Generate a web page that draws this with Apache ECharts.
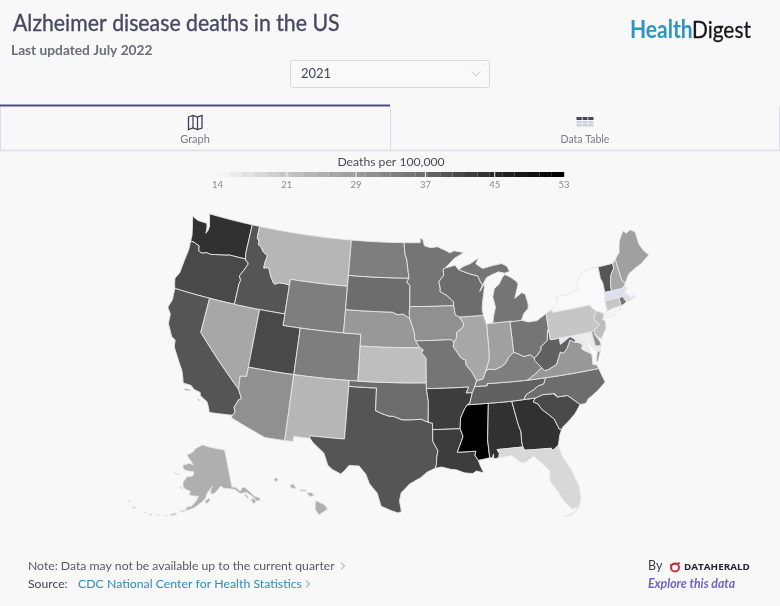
<!DOCTYPE html>
<html>
<head>
    <meta charset="utf-8">
    <title>Alzheimer disease deaths in the US</title>
    <script src="https://cdn.jsdelivr.net/npm/echarts@6/dist/echarts.min.js"></script>
    <style>
        html, body { margin: 0; padding: 0; background: #f8f8f8; }
        #main { width: 780px; height: 606px; }
    </style>
</head>
<body>
<div id="main"></div>
<script type="text/javascript">
    // values, null = no shade to read (NY, MA)
    var stateNames = ['Washington','Oregon','California','Nevada','Idaho','Montana','Wyoming','Utah','Colorado','Arizona','New Mexico','Texas','Oklahoma','Kansas','Nebraska','South Dakota','North Dakota','Minnesota','Iowa','Missouri','Arkansas','Louisiana','Mississippi','Alabama','Georgia','South Carolina','Florida','North Carolina','Tennessee','Kentucky','Virginia','West Virginia','Ohio','Indiana','Illinois','Wisconsin','Michigan','Pennsylvania','New York','New Jersey','Maryland','Delaware','Vermont','New Hampshire','Maine','Massachusetts','Connecticut','Rhode Island','Alaska','Hawaii'];
    var deathRates = [44,40.5,39.4,27,40.2,25,34,41.5,33.8,31,24.6,40,36.8,23,30.3,36.5,34.5,35.5,31,35,42.5,42.5,53,44,43.3,41.2,18.3,37.4,38.6,33.8,30,38.3,35.5,29,27.7,36.3,35.9,22.3,null,22.7,16,31,40,26.7,29,null,21,35,26,26];
    var legendTicks = [14, 21, 29, 37, 45, 53];
    var legendGrays = ['#f4f4f4', '#c2c2c2', '#9a9a9a', '#6b6b6b', '#2a2a2a', '#000000'];
    var yearSelected = '2021';

    // state outlines in lon/lat, each state a list of rings
    var stateShapes = {
        'Washington': [[[-124.73,48.38],[-123.9,48.16],[-123.1,48.15],[-122.75,48.15],[-122.6,47.9],[-122.5,47.3],[-122.33,47.6],[-122.3,47.95],[-122.5,48.45],[-122.75,49],[-117.03,49],[-117.04,46.42],[-116.92,45.99],[-118.98,46],[-119.3,45.93],[-119.9,45.84],[-120.65,45.74],[-121.2,45.65],[-121.75,45.7],[-122.3,45.55],[-122.76,45.65],[-122.9,46.1],[-123.2,46.15],[-123.55,46.26],[-124.05,46.27],[-124.1,46.8],[-124.4,47.6]]],
        'Oregon': [[[-124.05,46.27],[-123.55,46.26],[-123.2,46.15],[-122.9,46.1],[-122.76,45.65],[-122.3,45.55],[-121.75,45.7],[-121.2,45.65],[-120.65,45.74],[-119.9,45.84],[-119.3,45.93],[-118.98,46],[-116.92,45.99],[-116.78,45.83],[-116.55,45.75],[-116.46,45.6],[-116.68,45.24],[-116.85,44.96],[-117.2,44.45],[-117.03,44.25],[-116.93,44.1],[-117.03,43.83],[-117.03,42],[-124.21,42],[-124.4,42.4],[-124.55,42.84],[-124.2,43.4],[-124.1,44.5],[-123.97,45.5]]],
        'Idaho': [[[-117.03,49],[-116.05,49],[-116.05,48],[-115.72,47.7],[-115.72,47.43],[-115.3,47.25],[-114.93,46.9],[-114.33,46.65],[-114.47,46.1],[-114.5,45.56],[-114,45.65],[-113.8,45.5],[-113.45,44.95],[-113,44.45],[-112.8,44.37],[-112.3,44.55],[-111.5,44.55],[-111.05,44.48],[-111.05,42],[-117.03,42],[-117.03,43.83],[-116.93,44.1],[-117.03,44.25],[-117.2,44.45],[-116.85,44.96],[-116.68,45.24],[-116.46,45.6],[-116.55,45.75],[-116.78,45.83],[-116.92,45.99],[-117.04,46.42]]],
        'Montana': [[[-116.05,49],[-104.05,49],[-104.05,45],[-111.05,45],[-111.05,44.48],[-111.5,44.55],[-112.3,44.55],[-112.8,44.37],[-113,44.45],[-113.45,44.95],[-113.8,45.5],[-114,45.65],[-114.5,45.56],[-114.47,46.1],[-114.33,46.65],[-114.93,46.9],[-115.3,47.25],[-115.72,47.43],[-115.72,47.7],[-116.05,48]]],
        'Wyoming': [[[-111.05,45],[-104.05,45],[-104.05,41],[-111.05,41]]],
        'Utah': [[[-114.04,42],[-111.05,42],[-111.05,41],[-109.05,41],[-109.05,37],[-114.05,37]]],
        'Colorado': [[[-109.05,41],[-102.05,41],[-102.05,37],[-109.05,37]]],
        'Nevada': [[[-120,42],[-114.04,42],[-114.05,36.2],[-114.74,36.1],[-114.63,35],[-120,39]]],
        'California': [[[-124.21,42],[-120,42],[-120,39],[-114.63,35],[-114.15,34.27],[-114.43,34.08],[-114.72,33.4],[-114.52,33.03],[-114.72,32.72],[-117.12,32.53],[-117.25,32.85],[-117.6,33.4],[-118.4,33.75],[-118.5,34.03],[-119.2,34.15],[-119.6,34.42],[-120.47,34.45],[-120.65,34.9],[-120.9,35.4],[-121.9,36.6],[-122.4,37.2],[-122.52,37.8],[-123,38],[-123.75,39],[-123.85,39.8],[-124.35,40.3],[-124.1,41]],
            [[-120.2,34.02],[-119.5,34.05],[-119.55,33.95],[-120.1,33.92]],[[-118.6,33.48],[-118.35,33.4],[-118.3,33.3],[-118.55,33.38]]],
        'Arizona': [[[-114.05,37],[-109.05,37],[-109.05,31.33],[-111.07,31.33],[-114.81,32.5],[-114.72,32.72],[-114.52,33.03],[-114.72,33.4],[-114.43,34.08],[-114.15,34.27],[-114.63,35],[-114.74,36.1],[-114.05,36.2]]],
        'New Mexico': [[[-109.05,37],[-103,37],[-103.04,32],[-106.62,32],[-106.53,31.78],[-108.21,31.78],[-108.21,31.33],[-109.05,31.33]]],
        'Texas': [[[-106.62,32],[-103.04,32],[-103,36.5],[-100,36.5],[-100,34.56],[-99.2,34.3],[-98.6,34.15],[-98.1,34.13],[-97.2,33.85],[-96.6,33.85],[-95.9,33.87],[-95.2,33.9],[-94.48,33.64],[-94.04,33.55],[-94.04,33],[-94.04,31.99],[-93.55,31.2],[-93.7,30.5],[-93.72,30.05],[-93.85,29.7],[-94.7,29.35],[-95.3,28.9],[-96.4,28.35],[-97.2,27.6],[-97.35,26.9],[-97.15,25.96],[-97.5,25.85],[-98.2,26.06],[-99.1,26.4],[-99.5,27.5],[-100.3,28.3],[-100.7,29.1],[-101.4,29.77],[-102.4,29.77],[-102.8,29.3],[-103.15,28.98],[-104,29.3],[-104.5,29.65],[-105,30.65],[-106.2,31.45],[-106.53,31.78]]],
        'Oklahoma': [[[-103,37],[-94.62,37],[-94.62,36.5],[-94.43,35.4],[-94.48,33.64],[-95.2,33.9],[-95.9,33.87],[-96.6,33.85],[-97.2,33.85],[-98.1,34.13],[-98.6,34.15],[-99.2,34.3],[-100,34.56],[-100,36.5],[-103,36.5]]],
        'Kansas': [[[-102.05,40],[-95.3,40],[-94.9,39.8],[-95.1,39.55],[-94.61,39.11],[-94.62,37],[-102.05,37]]],
        'Nebraska': [[[-104.05,43],[-98.5,43],[-97.9,42.8],[-97.2,42.85],[-96.7,42.6],[-96.45,42.49],[-96.1,41.7],[-95.9,41.2],[-95.85,40.7],[-95.3,40],[-102.05,40],[-102.05,41],[-104.05,41]]],
        'South Dakota': [[[-104.05,45.94],[-96.56,45.94],[-96.85,45.6],[-96.45,45.3],[-96.45,43.5],[-96.52,43],[-96.45,42.49],[-96.7,42.6],[-97.2,42.85],[-97.9,42.8],[-98.5,43],[-104.05,43]]],
        'North Dakota': [[[-104.05,49],[-97.23,49],[-97.1,48],[-96.85,47.5],[-96.75,46.9],[-96.56,45.94],[-104.05,45.94]]],
        'Minnesota': [[[-97.23,49],[-95.15,49],[-95.15,49.38],[-94.82,49.3],[-94.6,48.72],[-93.8,48.55],[-92.95,48.62],[-92,48.3],[-91.4,48.05],[-90.8,48.2],[-89.6,48],[-90.85,47.55],[-92.05,46.75],[-92.3,46.66],[-92.29,46.1],[-92.9,45.6],[-92.75,45],[-92.8,44.75],[-92,44.4],[-91.25,43.85],[-91.22,43.5],[-96.45,43.5],[-96.45,45.3],[-96.85,45.6],[-96.56,45.94],[-96.75,46.9],[-96.85,47.5],[-97.1,48]]],
        'Iowa': [[[-96.45,43.5],[-91.22,43.5],[-91.1,42.7],[-90.64,42.5],[-90.15,41.9],[-90.35,41.55],[-91.05,41.2],[-91.1,40.7],[-91.42,40.38],[-91.73,40.61],[-95.77,40.58],[-95.85,40.7],[-95.9,41.2],[-96.1,41.7],[-96.45,42.49],[-96.52,43]]],
        'Missouri': [[[-95.77,40.58],[-91.73,40.61],[-91.42,40.38],[-91.5,40],[-90.7,39],[-90.2,38.8],[-90.2,38.4],[-89.55,37.7],[-89.15,37],[-89.4,36.5],[-89.7,36],[-90.37,36],[-90.07,36.5],[-94.62,36.5],[-94.62,37],[-94.61,39.11],[-95.1,39.55],[-94.9,39.8],[-95.3,40]]],
        'Arkansas': [[[-94.62,36.5],[-90.07,36.5],[-90.37,36],[-89.7,36],[-90.05,35.1],[-90.3,35],[-90.6,34.7],[-91.1,33.9],[-91.2,33],[-94.04,33],[-94.04,33.55],[-94.48,33.64],[-94.43,35.4]]],
        'Louisiana': [[[-94.04,33],[-91.2,33],[-91,32.5],[-90.95,32.3],[-91.6,31],[-89.73,31],[-89.85,30.65],[-89.55,30.2],[-89.4,29.75],[-89.1,29.1],[-89.8,29.3],[-90.2,29.1],[-91,29.2],[-91.8,29.5],[-92.3,29.55],[-93.2,29.78],[-93.85,29.7],[-93.72,30.05],[-93.7,30.5],[-93.55,31.2],[-94.04,31.99]]],
        'Mississippi': [[[-90.3,35],[-88.2,35],[-88.1,34.9],[-88.47,31.9],[-88.4,30.35],[-89.55,30.2],[-89.85,30.65],[-89.73,31],[-91.6,31],[-90.95,32.3],[-91,32.5],[-91.2,33],[-91.1,33.9],[-90.6,34.7]]],
        'Tennessee': [[[-90.3,35],[-90.05,35.1],[-89.7,36],[-89.4,36.5],[-88.05,36.5],[-88.05,36.68],[-83.68,36.6],[-81.68,36.59],[-82,36.1],[-82.6,36],[-83.1,35.75],[-84,35.4],[-84.32,35],[-85.6,34.98],[-88.2,35]]],
        'Alabama': [[[-88.2,35],[-85.6,34.98],[-85.18,32.87],[-85,32.3],[-85.05,31.55],[-85,31],[-87.6,31],[-87.4,30.65],[-87.5,30.28],[-88,30.23],[-88,30.65],[-88.13,30.32],[-88.4,30.35],[-88.47,31.9],[-88.1,34.9]]],
        'Georgia': [[[-85.6,34.98],[-84.32,35],[-83.1,35],[-83.35,34.7],[-82.9,34.48],[-82.55,33.95],[-82,33.5],[-81.45,33],[-81.1,32.1],[-80.87,32.03],[-81.15,31.55],[-81.45,30.72],[-82.05,30.36],[-82.2,30.57],[-84.86,30.7],[-85,31],[-85.05,31.55],[-85,32.3],[-85.18,32.87]]],
        'Florida': [[[-87.6,31],[-85,31],[-84.86,30.7],[-82.2,30.57],[-82.05,30.36],[-81.45,30.72],[-81.25,29.8],[-80.55,28.45],[-80.05,26.9],[-80.13,25.8],[-80.4,25.2],[-81.1,25.13],[-81.75,25.95],[-82.2,26.9],[-82.75,27.8],[-82.65,28.7],[-83.4,29.5],[-84,30.1],[-85,29.65],[-85.4,29.7],[-86.2,30.4],[-87.5,30.28],[-87.4,30.65]],
            [[-81.85,24.55],[-81.2,24.6],[-80.4,25.15],[-80.5,25.1],[-81.2,24.7]]],
        'South Carolina': [[[-83.35,34.7],[-83.1,35],[-82.3,35.2],[-81.05,35.15],[-81.04,35.05],[-80.93,35.1],[-80.78,34.82],[-79.67,34.8],[-78.55,33.86],[-79.2,33.2],[-79.9,32.7],[-80.65,32.25],[-80.87,32.03],[-81.1,32.1],[-81.45,33],[-82,33.5],[-82.55,33.95],[-82.9,34.48]]],
        'North Carolina': [[[-84.32,35],[-84,35.4],[-83.1,35.75],[-82.6,36],[-82,36.1],[-81.68,36.59],[-75.87,36.55],[-75.5,35.3],[-76.5,34.7],[-77.6,34.2],[-77.95,33.85],[-78.55,33.86],[-79.67,34.8],[-80.78,34.82],[-80.93,35.1],[-81.04,35.05],[-81.05,35.15],[-82.3,35.2],[-83.1,35]]],
        'Virginia': [[[-83.68,36.6],[-81.68,36.59],[-75.87,36.55],[-76,36.9],[-76.4,37],[-76.3,37.55],[-76.3,37.9],[-77,38.3],[-77.25,38.5],[-77.05,38.8],[-77.5,39.1],[-77.83,39.13],[-78.35,39.4],[-78.85,38.75],[-79.3,38.4],[-79.65,38.55],[-80.3,37.55],[-81.25,37.25],[-81.68,37.2],[-81.96,37.5],[-82.7,37.05]],
            [[-75.98,37.12],[-75.65,37.95],[-75.25,38.03],[-75.75,37.2]]],
        'West Virginia': [[[-82.6,38.4],[-82.2,38.6],[-81.75,39],[-81.7,39.25],[-80.9,39.7],[-80.65,40.6],[-80.52,40.64],[-80.52,39.72],[-79.48,39.72],[-79.48,39.2],[-78.4,39.65],[-78.2,39.68],[-77.72,39.32],[-77.83,39.13],[-78.35,39.4],[-78.85,38.75],[-79.3,38.4],[-79.65,38.55],[-80.3,37.55],[-81.25,37.25],[-81.68,37.2],[-81.96,37.5],[-82.6,38.17]]],
        'Kentucky': [[[-89.15,37],[-89.4,36.5],[-88.05,36.5],[-88.05,36.68],[-83.68,36.6],[-82.7,37.05],[-81.96,37.5],[-82.6,38.17],[-82.6,38.4],[-83,38.72],[-83.7,38.63],[-84.25,38.9],[-84.8,39.1],[-85.4,38.73],[-85.8,38.28],[-86.3,38],[-87.1,37.8],[-87.6,37.9],[-88.05,37.8],[-88.45,37.1]]],
        'Ohio': [[[-84.8,41.7],[-83.45,41.73],[-82.7,41.5],[-81.7,41.5],[-80.52,41.98],[-80.52,40.64],[-80.65,40.6],[-80.9,39.7],[-81.7,39.25],[-81.75,39],[-82.2,38.6],[-82.6,38.4],[-83,38.72],[-83.7,38.63],[-84.25,38.9],[-84.8,39.1]]],
        'Indiana': [[[-87.53,41.72],[-87.2,41.75],[-86.8,41.76],[-84.8,41.76],[-84.8,39.1],[-85.4,38.73],[-85.8,38.28],[-86.3,38],[-87.1,37.8],[-87.6,37.9],[-88.05,37.8],[-87.6,38.7],[-87.53,39.35]]],
        'Illinois': [[[-90.64,42.5],[-87.8,42.5],[-87.6,41.9],[-87.53,41.72],[-87.53,39.35],[-87.6,38.7],[-88.05,37.8],[-88.45,37.1],[-89.15,37],[-89.55,37.7],[-90.2,38.4],[-90.2,38.8],[-90.7,39],[-91.5,40],[-91.42,40.38],[-91.1,40.7],[-91.05,41.2],[-90.35,41.55],[-90.15,41.9]]],
        'Wisconsin': [[[-92.3,46.66],[-92.05,46.75],[-90.8,46.95],[-90.4,46.55],[-89.1,46.14],[-88.1,45.9],[-87.8,45.35],[-87.6,45.1],[-88,44.55],[-87.3,45.25],[-87.5,44.5],[-87.75,43.7],[-87.9,43],[-87.8,42.5],[-90.64,42.5],[-91.1,42.7],[-91.22,43.5],[-91.25,43.85],[-92,44.4],[-92.8,44.75],[-92.75,45],[-92.9,45.6],[-92.29,46.1]]],
        'Michigan': [[[-86.8,41.76],[-84.8,41.76],[-84.8,41.7],[-83.45,41.73],[-83.1,42.25],[-82.5,42.65],[-82.42,43],[-82.6,43.9],[-83,44.05],[-83.9,43.65],[-83.3,44.8],[-83.4,45.05],[-84.1,45.5],[-84.75,45.78],[-85.1,45.55],[-85.6,45],[-86.2,44.7],[-86.5,44],[-86.3,43.1],[-86.6,42.4]],
            [[-90.4,46.55],[-89.1,46.14],[-88.1,45.9],[-87.8,45.35],[-87.6,45.1],[-87,45.7],[-86.3,45.9],[-85.5,46.08],[-84.75,45.9],[-84.1,46],[-84.4,46.5],[-85,46.75],[-86.1,46.67],[-87.4,46.5],[-88.2,46.95],[-87.8,47.45],[-88.9,47],[-89.8,46.8]]],
        'Pennsylvania': [[[-80.52,41.98],[-79.76,42.27],[-79.76,42],[-75.35,42],[-75.05,41.6],[-74.7,41.36],[-75.13,40.97],[-75.2,40.7],[-74.75,40.2],[-75.4,39.8],[-75.79,39.72],[-80.52,39.72]]],
        'New York': [[[-79.76,42.27],[-79.05,42.7],[-78.9,42.95],[-79.05,43.27],[-77.5,43.25],[-76.2,43.55],[-76.3,44.1],[-75.3,44.85],[-74.7,45],[-73.35,45],[-73.4,44],[-73.25,43.6],[-73.28,42.75],[-73.5,42.05],[-73.49,41.2],[-73.73,41.1],[-73.95,41],[-74.7,41.36],[-75.05,41.6],[-75.35,42],[-79.76,42]],
            [[-74,40.6],[-73.75,40.85],[-72.6,40.98],[-71.9,41.07],[-72.5,40.8],[-73.7,40.58]]],
        'Vermont': [[[-73.35,45],[-71.5,45],[-71.55,44.55],[-72.05,44.1],[-72.3,43.6],[-72.45,43],[-72.46,42.73],[-73.28,42.75],[-73.25,43.6],[-73.4,44]]],
        'New Hampshire': [[[-71.5,45],[-71.08,45.3],[-70.98,43.4],[-70.7,43.07],[-70.82,42.87],[-71.3,42.7],[-72.46,42.73],[-72.45,43],[-72.3,43.6],[-72.05,44.1],[-71.55,44.55]]],
        'Maine': [[[-71.08,45.3],[-70.4,45.75],[-70.25,46.2],[-70,46.7],[-69.23,47.46],[-68.9,47.18],[-68.3,47.36],[-67.79,47.07],[-67.78,45.95],[-67.45,45.3],[-67,44.85],[-68.2,44.3],[-69,44.1],[-70,43.75],[-70.7,43.07],[-70.98,43.4]]],
        'Massachusetts': [[[-73.5,42.05],[-73.28,42.75],[-72.46,42.73],[-71.3,42.7],[-70.82,42.87],[-70.6,42.65],[-71.05,42.3],[-70.65,41.95],[-70.5,41.78],[-70.05,41.78],[-70.22,42.07],[-69.95,41.7],[-70.65,41.55],[-71.12,41.5],[-71.38,42.02],[-71.8,42.02]]],
        'Connecticut': [[[-73.5,42.05],[-71.8,42.02],[-71.85,41.32],[-72.9,41.25],[-73.73,41.1],[-73.49,41.2]]],
        'Rhode Island': [[[-71.8,42.02],[-71.38,42.02],[-71.12,41.5],[-71.5,41.37],[-71.85,41.32]]],
        'New Jersey': [[[-74.7,41.36],[-73.95,41],[-74.25,40.5],[-73.98,40.4],[-74.1,39.75],[-74.9,38.95],[-75.55,39.5],[-75.4,39.8],[-74.75,40.2],[-75.2,40.7],[-75.13,40.97]]],
        'Delaware': [[[-75.79,39.72],[-75.4,39.8],[-75.55,39.5],[-75.1,38.8],[-75.05,38.45],[-75.7,38.46]]],
        'Maryland': [[[-79.48,39.72],[-75.79,39.72],[-75.7,38.46],[-75.05,38.45],[-75.25,38.03],[-75.65,37.95],[-76,38.3],[-76.3,38.9],[-76.1,39.4],[-76.5,39.2],[-76.5,38.5],[-76.35,38.05],[-77,38.3],[-77.25,38.5],[-77.05,38.8],[-77.5,39.1],[-77.83,39.13],[-77.72,39.32],[-78.2,39.68],[-78.4,39.65],[-79.48,39.2]]],
        'Alaska': [[[-141,69.65],[-141,60.3],[-139.2,60.1],[-137.5,58.9],[-136.5,59.45],[-135.3,59.75],[-133.5,58.4],[-131.8,56.6],[-130,56],[-130.1,55.2],[-131.5,55.4],[-133,57],[-135,58.3],[-136.5,58.2],[-137.9,58.4],[-139.8,59.55],[-142.5,60.05],[-145,60.3],[-146.5,60.9],[-148.5,60],[-150,59.3],[-151.8,59.2],[-151.5,60.7],[-150.2,61.2],[-152.2,60.2],[-153.5,59.5],[-154.2,58.2],[-156.5,57],[-158.5,56],[-161,55.2],[-163.2,54.8],[-162,55.9],[-160.5,56],[-158.5,57.5],[-157.5,58.7],[-159,58.6],[-162,58.7],[-161.8,59.7],[-164.2,60],[-165.5,60.5],[-166,61.6],[-164.8,62.7],[-164.5,63.1],[-161,63.5],[-161,64.5],[-164,64.55],[-166.5,64.6],[-168.1,65.6],[-164,66.5],[-161.8,66.1],[-163.5,67.1],[-166.8,68.35],[-163,69.3],[-161.5,70.3],[-156.6,71.35],[-152,70.85],[-148,70.4],[-144,70]],
            [[-154.5,57.5],[-152.3,58.3],[-152.2,57.6],[-153.8,56.8]],
            [[-134.6,57],[-135.6,58.1],[-135.9,57.6],[-135,56.6]],[[-133.5,55.1],[-133.8,56.3],[-132.4,56.2],[-131.9,55.2]],
            [[-171.7,63.45],[-169,63.4],[-168.9,63.15],[-171.5,63.3]],[[-167.2,60.3],[-166,60.4],[-165.7,60],[-167,59.9]],
            [[-164.9,54.6],[-163.3,54.85],[-163.4,54.55],[-164.8,54.4]],[[-168.9,53.2],[-166.2,53.95],[-166.4,53.45],[-168.5,52.95]],
            [[-171.2,52.55],[-169.7,52.95],[-169.9,52.75]],[[-174.6,52.3],[-172.8,52.45],[-172.9,52.2]],[[-177.2,51.95],[-175.8,52.1],[-176,51.75]],
            [[-179.5,51.95],[-178,51.95],[-178.2,51.65]],[[-184.5,52.1],[-182.7,52.1],[-183.3,51.7]],[[-187.2,52.9],[-185.8,53],[-186,52.7]]],
        'Hawaii': [[[-155.9,20.25],[-155.1,19.9],[-154.8,19.5],[-155.6,19],[-155.95,19.5]],
            [[-156.7,20.9],[-156.25,20.95],[-156,20.7],[-156.4,20.58]],[[-157.3,21.2],[-156.75,21.17],[-156.75,21.05],[-157.3,21.08]],
            [[-158.25,21.55],[-157.95,21.7],[-157.65,21.3],[-158.1,21.3]],[[-159.75,22.05],[-159.5,22.23],[-159.3,22],[-159.55,21.88]]]
    };

    // add points on long edges so straight parallels bend under the conic projection
    function densify(ring) {
        var out = [];
        for (var i = 0; i < ring.length; i++) {
            var a = ring[i], b = ring[(i + 1) % ring.length];
            var steps = Math.ceil(Math.max(Math.abs(b[0] - a[0]), Math.abs(b[1] - a[1])) / 0.5) || 1;
            for (var k = 0; k < steps; k++) {
                out.push([a[0] + (b[0] - a[0]) * k / steps, a[1] + (b[1] - a[1]) * k / steps]);
            }
        }
        out.push(out[0]);
        return out;
    }

    var features = stateNames.map(function (name) {
        return {
            type: 'Feature',
            properties: { name: name },
            geometry: { type: 'MultiPolygon', coordinates: stateShapes[name].map(function (ring) { return [densify(ring)]; }) }
        };
    });
    echarts.registerMap('USA', { type: 'FeatureCollection', features: features });

    // Albers USA with its two insets, fitted to the page
    var RAD = Math.PI / 180;
    function conic(lat1, lat2, lat0, lon0) {
        var n = (Math.sin(lat1 * RAD) + Math.sin(lat2 * RAD)) / 2;
        var c = Math.pow(Math.cos(lat1 * RAD), 2) + 2 * n * Math.sin(lat1 * RAD);
        var rho0 = Math.sqrt(c - 2 * n * Math.sin(lat0 * RAD)) / n;
        return function (p) {
            var rho = Math.sqrt(c - 2 * n * Math.sin(p[1] * RAD)) / n;
            var theta = n * (p[0] - lon0) * RAD;
            return [rho * Math.sin(theta), rho0 - rho * Math.cos(theta)];
        };
    }
    var SCALE = 667;
    var lower48 = conic(29.5, 45.5, 37.5, -96);
    var alaska = conic(55, 65, 58.5, -154);
    var hawaii = conic(8, 18, 19.9, -157);
    function albersUsa(p) {
        var q, k, tx, ty;
        if (p[0] < -125 && p[1] > 50) { q = alaska(p); k = SCALE * 0.35; tx = 206; ty = 497; }
        else if (p[0] < -150 && p[1] < 30) { q = hawaii(p); k = SCALE; tx = 303.5; ty = 504.6; }
        else { q = lower48(p); k = SCALE; tx = 413.6; ty = 377; }
        return [tx + k * q[0], ty - k * q[1]];
    }

    // projected extent, the map box is set to it so one unit is one pixel
    var box = [Infinity, Infinity, -Infinity, -Infinity];
    features.forEach(function (f) {
        f.geometry.coordinates.forEach(function (poly) {
            poly[0].forEach(function (p) {
                var q = albersUsa(p);
                box = [Math.min(box[0], q[0]), Math.min(box[1], q[1]), Math.max(box[2], q[0]), Math.max(box[3], q[1])];
            });
        });
    });

    var seriesData = stateNames.map(function (name, i) {
        var item = { name: name, value: deathRates[i] };
        if (name === 'Massachusetts') item.itemStyle = { areaColor: '#dfdfee' };
        return item;
    });

    var graphics = [];
    // scaleX narrows the text, the page font is a bit more condensed than Lato
    function addText(x, y, text, size, color, extra, scaleX) {
        var style = { x: 0, y: 0, text: text, fontSize: size, fill: color, fontFamily: 'Lato', verticalAlign: 'middle' };
        for (var key in extra) style[key] = extra[key];
        graphics.push({ type: 'text', silent: true, x: x, y: y, scaleX: scaleX || 1, style: style });
    }
    function addLine(x1, y1, x2, y2, color, width) {
        graphics.push({ type: 'line', silent: true, shape: { x1: x1, y1: y1, x2: x2, y2: y2 }, style: { stroke: color, lineWidth: width, fill: null } });
    }
    function addChevron(x, y, color) {
        graphics.push({ type: 'polyline', silent: true, shape: { points: [[x, y - 3.5], [x + 3.5, y], [x, y + 3.5]] }, style: { stroke: color, lineWidth: 0.9, fill: null } });
    }

    // header
    addText(13, 24, 'Alzheimer disease deaths in the US', 23, '#464962', { stroke: '#464962', lineWidth: 0.35 }, 0.925);
    addText(11, 50, 'Last updated July 2022', 14, '#6c6c78', { fontWeight: 'bold' }, 0.98);
    addText(630, 30, 'Health', 24, '#2d95c5', { fontWeight: 'bold' }, 0.875);
    addText(692, 30, 'Digest', 24, '#15151a', { stroke: '#15151a', lineWidth: 0.3 }, 0.87);

    // year selector
    graphics.push({ type: 'rect', silent: true, shape: { x: 290.5, y: 60.5, width: 199, height: 27, r: 2 }, style: { fill: '#f9f9f9', stroke: '#dadadd', lineWidth: 1 } });
    addText(301, 74, yearSelected, 13, '#45465c');
    graphics.push({ type: 'polyline', silent: true, shape: { points: [[472, 71.5], [476, 76], [480, 71.5]] }, style: { stroke: '#b9b9c0', lineWidth: 0.9, fill: null } });

    // tabs
    addLine(0, 150.5, 780, 150.5, '#dddde9', 1.4);
    addLine(390.5, 106, 390.5, 150, '#dddde9', 1);
    addLine(0.5, 106, 0.5, 150, '#dddde9', 1);
    addLine(779.5, 106, 779.5, 150, '#dddde9', 1);
    addLine(0, 105.5, 390, 105.5, '#4a4a8c', 2);
    graphics.push({ type: 'polygon', silent: true, shape: { points: [[188.5, 117], [193, 115.5], [197.5, 117], [202, 115.5], [202, 128], [197.5, 129.5], [193, 128], [188.5, 129.5]] }, style: { fill: null, stroke: '#3b3b58', lineWidth: 1.3 } });
    addLine(193, 115.5, 193, 128, '#3b3b58', 1.2);
    addLine(197.5, 117, 197.5, 129.5, '#3b3b58', 1.2);
    addText(195, 139.5, 'Graph', 11, '#7b7b84', { align: 'center' });
    graphics.push({ type: 'rect', silent: true, shape: { x: 576.5, y: 117, width: 17, height: 3 }, style: { fill: '#45456a' } });
    graphics.push({ type: 'rect', silent: true, shape: { x: 576.5, y: 121, width: 17, height: 5.5 }, style: { fill: '#d0d0dc' } });
    addLine(582.2, 117, 582.2, 126.5, '#f8f8f8', 0.8);
    addLine(587.8, 117, 587.8, 126.5, '#f8f8f8', 0.8);
    addLine(576.5, 123.7, 593.5, 123.7, '#f8f8f8', 0.6);
    addText(585, 139.5, 'Data Table', 10.5, '#7b7b84', { align: 'center' });

    // legend caption and ticks
    addText(391, 162.5, 'Deaths per 100,000', 12.2, '#4b4b55', { align: 'center' });
    legendTicks.forEach(function (tick, i) {
        var x = 217.5 + i * 69.3;
        addText(x, 184.5, String(tick), 9.5, '#8a8a90', { align: 'center' });
    });

    // footer
    addText(28, 566, 'Note: Data may not be available up to the current quarter', 12.2, '#5a5a64');
    addChevron(341, 566, '#8a8a90');
    addText(28, 584, 'Source:', 12.2, '#45454f');
    addText(78, 584, 'CDC National Center for Health Statistics', 12.3, '#2e8ac4');
    addChevron(306, 584, '#2e8ac4');
    addText(648, 566, 'By', 12.5, '#3b3b45');
    graphics.push({ type: 'circle', silent: true, shape: { cx: 675, cy: 567.5, r: 4 }, style: { fill: null, stroke: '#c8323c', lineWidth: 2 } });
    addLine(670, 565, 680, 563, '#c8323c', 1.6);
    addText(684, 567.5, 'DATAHERALD', 8.5, '#26262e', { fontWeight: 'bold', fontFamily: 'Open Sans' }, 1.16);
    addText(648, 584, 'Explore this data', 12.3, '#6e64c8', { fontStyle: 'italic', fontWeight: 'bold' });

    var myChart = echarts.init(document.getElementById('main'));

    var option = {
        backgroundColor: '#f8f8f8',
        animation: false,
        visualMap: {
            type: 'piecewise',
            min: legendTicks[0],
            max: legendTicks[legendTicks.length - 1],
            splitNumber: 28,
            orient: 'horizontal',
            left: 217,
            top: 172,
            padding: 0,
            itemWidth: 12.4,
            itemHeight: 5,
            itemGap: 0,
            itemSymbol: 'rect',
            showLabel: false,
            selectedMode: false,
            hoverLink: false,
            seriesIndex: 0,
            inRange: { color: legendGrays }
        },
        series: [{
            type: 'map',
            map: 'USA',
            projection: {
                project: albersUsa,
                unproject: function (p) { return p; }
            },
            left: box[0],
            top: box[1],
            width: box[2] - box[0],
            height: box[3] - box[1],
            roam: false,
            silent: true,
            selectedMode: false,
            label: { show: false },
            emphasis: { disabled: true },
            itemStyle: { areaColor: '#f9f9f9', borderColor: '#e6e6ea', borderWidth: 0.9 },
            data: seriesData
        }],
        graphic: { elements: graphics.concat([1, 2, 3, 4].map(function (i) {
            // white marks on the legend bar at the inner ticks
            var x = 217.5 + i * 69.3;
            return { type: 'line', silent: true, z: 10, shape: { x1: x, y1: 172, x2: x, y2: 177 }, style: { stroke: '#f8f8f8', lineWidth: 1 } };
        })) }
    };

    myChart.setOption(option);
</script>
</body>
</html>
